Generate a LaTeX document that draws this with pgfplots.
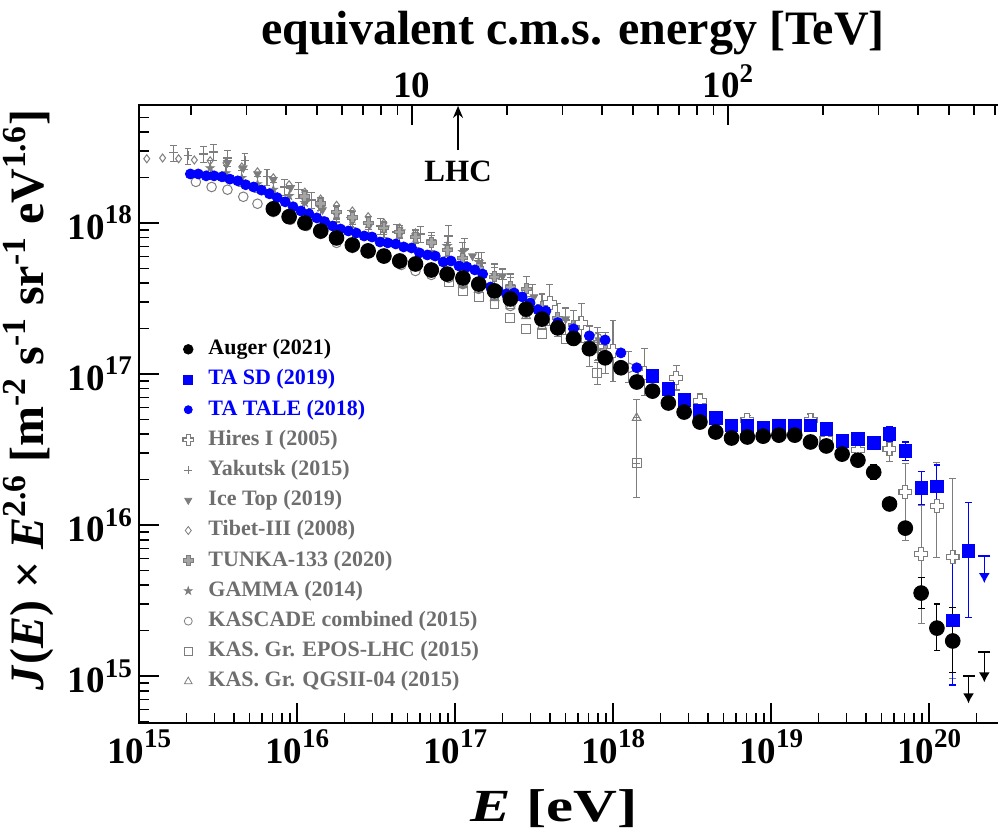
\documentclass[border=0pt]{standalone}
\usepackage{fontspec}
\setmainfont{Liberation Serif}
\usepackage{graphicx}
\usepackage{pgfplots}
\pgfplotsset{compat=1.18}
\usetikzlibrary{arrows.meta}
\definecolor{tablue}{RGB}{0,0,255}
\definecolor{gr}{RGB}{125,125,125}
\definecolor{grt}{RGB}{110,110,110}
\newcommand{\tsup}[1]{\raisebox{0.42em}{\fontsize{13.5}{14}\selectfont #1}}

\pgfdeclareplotmark{hplus}{%
 \pgfpathmoveto{\pgfqpoint{-0.38\pgfplotmarksize}{\pgfplotmarksize}}%
 \pgfpathlineto{\pgfqpoint{0.38\pgfplotmarksize}{\pgfplotmarksize}}%
 \pgfpathlineto{\pgfqpoint{0.38\pgfplotmarksize}{0.38\pgfplotmarksize}}%
 \pgfpathlineto{\pgfqpoint{\pgfplotmarksize}{0.38\pgfplotmarksize}}%
 \pgfpathlineto{\pgfqpoint{\pgfplotmarksize}{-0.38\pgfplotmarksize}}%
 \pgfpathlineto{\pgfqpoint{0.38\pgfplotmarksize}{-0.38\pgfplotmarksize}}%
 \pgfpathlineto{\pgfqpoint{0.38\pgfplotmarksize}{-\pgfplotmarksize}}%
 \pgfpathlineto{\pgfqpoint{-0.38\pgfplotmarksize}{-\pgfplotmarksize}}%
 \pgfpathlineto{\pgfqpoint{-0.38\pgfplotmarksize}{-0.38\pgfplotmarksize}}%
 \pgfpathlineto{\pgfqpoint{-\pgfplotmarksize}{-0.38\pgfplotmarksize}}%
 \pgfpathlineto{\pgfqpoint{-\pgfplotmarksize}{0.38\pgfplotmarksize}}%
 \pgfpathlineto{\pgfqpoint{-0.38\pgfplotmarksize}{0.38\pgfplotmarksize}}%
 \pgfpathclose
 \pgfusepathqfillstroke}

\pgfdeclareplotmark{fstar}{%
 \pgfpathmoveto{\pgfqpoint{0pt}{\pgfplotmarksize}}%
 \pgfpathlineto{\pgfqpoint{-0.225\pgfplotmarksize}{0.309\pgfplotmarksize}}%
 \pgfpathlineto{\pgfqpoint{-0.951\pgfplotmarksize}{0.309\pgfplotmarksize}}%
 \pgfpathlineto{\pgfqpoint{-0.363\pgfplotmarksize}{-0.118\pgfplotmarksize}}%
 \pgfpathlineto{\pgfqpoint{-0.588\pgfplotmarksize}{-0.809\pgfplotmarksize}}%
 \pgfpathlineto{\pgfqpoint{0pt}{-0.382\pgfplotmarksize}}%
 \pgfpathlineto{\pgfqpoint{0.588\pgfplotmarksize}{-0.809\pgfplotmarksize}}%
 \pgfpathlineto{\pgfqpoint{0.363\pgfplotmarksize}{-0.118\pgfplotmarksize}}%
 \pgfpathlineto{\pgfqpoint{0.951\pgfplotmarksize}{0.309\pgfplotmarksize}}%
 \pgfpathlineto{\pgfqpoint{0.225\pgfplotmarksize}{0.309\pgfplotmarksize}}%
 \pgfpathclose
 \pgfusepathqfillstroke}

\pgfplotsset{
 ebar/.style={/pgfplots/error bars/y dir=both,
   /pgfplots/error bars/y explicit relative,
   /pgfplots/error bars/error bar style={#1, line width=0.55pt},
   /pgfplots/error bars/error mark options={#1, line width=0.55pt, mark size=1.7pt, rotate=90}},
}

\begin{document}
\begin{tikzpicture}
\path[use as bounding box] (-69.5pt,-54pt) rectangle (429.5pt,361.5pt);

%================ main axis =================
\begin{axis}[
 scale only axis, width=436pt, height=309pt,
 xmode=log, ymode=log,
 xmin=1e15, xmax=3.304e20, ymin=4.9e14, ymax=6.04e18,
 xtick={1e15,1e16,1e17,1e18,1e19,1e20},
 xticklabels={10\tsup{15},10\tsup{16},10\tsup{17},10\tsup{18},10\tsup{19},10\tsup{20}},
 minor xtick={2e15,3e15,4e15,5e15,6e15,7e15,8e15,9e15,2e16,3e16,4e16,5e16,6e16,7e16,8e16,9e16,2e17,3e17,4e17,5e17,6e17,7e17,8e17,9e17,2e18,3e18,4e18,5e18,6e18,7e18,8e18,9e18,2e19,3e19,4e19,5e19,6e19,7e19,8e19,9e19,2e20,3e20},
 ytick={1e15,1e16,1e17,1e18},
 yticklabels={10\tsup{15},10\tsup{16},10\tsup{17},10\tsup{18}},
 minor ytick={5e14,6e14,7e14,8e14,9e14,2e15,3e15,4e15,5e15,6e15,7e15,8e15,9e15,2e16,3e16,4e16,5e16,6e16,7e16,8e16,9e16,2e17,3e17,4e17,5e17,6e17,7e17,8e17,9e17,2e18,3e18,4e18,5e18},
 xtick pos=left, ytick pos=left,
 tick align=inside,
 major tick length=10pt, minor tick length=5pt,
 every tick/.style={black, line width=0.8pt},
 axis line style={line width=1pt},
 tick label style={font=\fontsize{18.5}{20}\selectfont\bfseries},
 xlabel={\scalebox{1.32}[1]{\textit{E} [eV]}},
 xlabel style={font=\fontsize{23}{27}\selectfont\bfseries, at={(axis description cs:0.476,-0.16)}, anchor=base, inner sep=0pt},
 ylabel={\textit{J}(\textit{E}) × \textit{E}\textsuperscript{2.6} [m\textsuperscript{-2} s\textsuperscript{-1} sr\textsuperscript{-1} eV\textsuperscript{1.6}]},
 ylabel style={font=\fontsize{24}{28}\selectfont\bfseries, at={(axis description cs:-0.1273,0.5227)}, anchor=center},
 legend style={at={(axis description cs:0.0505,0.625)}, anchor=north west, draw=none, fill=none,
   inner sep=0pt, outer sep=0pt, font=\fontsize{11}{13}\selectfont\bfseries, row sep=2.5pt,
   nodes={inner sep=1pt, text height=8pt, text depth=2.6pt}},
 legend cell align=left,
]

% ---------- legend entries ----------
\addlegendimage{only marks, mark=*, mark size=2.4pt, black}
\addlegendentry{\hspace{6.5pt}Auger (2021)}
\addlegendimage{only marks, mark=square*, mark size=2.2pt, tablue}
\addlegendentry{\hspace{6.5pt}\textcolor{tablue}{TA SD (2019)}}
\addlegendimage{only marks, mark=*, mark size=2pt, tablue}
\addlegendentry{\hspace{6.5pt}\textcolor{tablue}{TA TALE (2018)}}
\addlegendimage{only marks, mark=hplus, mark size=2.6pt, draw=gr, fill=white, line width=0.6pt}
\addlegendentry{\hspace{6.5pt}\textcolor{grt}{Hires I (2005)}}
\addlegendimage{only marks, mark=+, mark size=2pt, gr}
\addlegendentry{\hspace{6.5pt}\textcolor{grt}{Yakutsk (2015)}}
\addlegendimage{only marks, mark=triangle*, mark size=2pt, gr, mark options={rotate=180}}
\addlegendentry{\hspace{6.5pt}\textcolor{grt}{Ice Top (2019)}}
\addlegendimage{only marks, mark=diamond, mark size=2pt, gr}
\addlegendentry{\hspace{6.5pt}\textcolor{grt}{Tibet-III (2008)}}
\addlegendimage{only marks, mark=hplus, mark size=2.6pt, draw=gr, fill=gr!70, line width=0.5pt}
\addlegendentry{\hspace{6.5pt}\textcolor{grt}{TUNKA-133 (2020)}}
\addlegendimage{only marks, mark=fstar, mark size=2pt, draw=gr, fill=gr}
\addlegendentry{\hspace{6.5pt}\textcolor{grt}{GAMMA (2014)}}
\addlegendimage{only marks, mark=o, mark size=2pt, gr}
\addlegendentry{\hspace{6.5pt}\textcolor{grt}{KASCADE combined (2015)}}
\addlegendimage{only marks, mark=square, mark size=2pt, gr}
\addlegendentry{\hspace{6.5pt}\textcolor{grt}{KAS. Gr. EPOS-LHC (2015)}}
\addlegendimage{only marks, mark=triangle, mark size=2.2pt, gr}
\addlegendentry{\hspace{6.5pt}\textcolor{grt}{KAS. Gr. QGSII-04 (2015)}}

% ---------- Tibet-III ----------
\addplot[forget plot, only marks, mark=diamond, mark size=2pt, gr, line width=0.5pt] coordinates {
(1.12e15,2.66e18) (1.41e15,2.69e18) (1.78e15,2.66e18) (2.24e15,2.61e18) (2.82e15,2.58e18)
(3.55e15,2.50e18) (4.47e15,2.35e18) (5.62e15,2.18e18) (7.08e15,1.99e18) (8.91e15,1.79e18)
(1.12e16,1.60e18) (1.41e16,1.44e18) (1.78e16,1.31e18) (2.24e16,1.20e18) (2.82e16,1.10e18)
(3.55e16,1.00e18) (4.47e16,9.27e17) (5.62e16,8.59e17)};

% ---------- Yakutsk ----------
\addplot[forget plot, only marks, mark=+, mark size=2.2pt, gr, line width=0.6pt, ebar=gr] coordinates {
(1.66e15,2.91e18) +- (0,0.12) (2.04e15,2.78e18) +- (0,0.12) (2.57e15,2.86e18) +- (0,0.12)
(2.95e15,2.95e18) +- (0,0.12) (3.63e15,2.69e18) +- (0,0.12) (4.68e15,2.58e18) +- (0,0.12)
(6.46e15,2.02e18) +- (0,0.12) (8.32e15,1.73e18) +- (0,0.12) (1.02e16,1.66e18) +- (0,0.12)
(1.23e16,1.42e18) +- (0,0.12) (1.78e16,1.16e18) +- (0,0.12) (2.19e16,1.08e18) +- (0,0.12)
(3.39e16,9.55e17) +- (0,0.12) (4.27e16,8.71e17) +- (0,0.12) (6.03e16,8.45e17) +- (0,0.12)
(9.12e16,8.20e17) +- (0,0.18) (1.15e17,6.73e17) +- (0,0.18) (1.48e17,5.43e17) +- (0,0.18)
(2.00e17,4.20e17) +- (0,0.18) (3.09e17,3.24e17) +- (0,0.2) (5.01e17,2.28e17) +- (0,0.2)
(8.13e17,1.56e17) +- (0,0.2)};

% ---------- Ice Top ----------
\addplot[forget plot, only marks, mark=triangle*, mark size=2.2pt, gr, mark options={rotate=180}] coordinates {
(3.63e15,2.50e18) (4.57e15,2.31e18) (5.62e15,2.11e18) (7.08e15,1.93e18) (9.12e15,1.71e18)
(1.12e16,1.42e18) (1.45e16,1.22e18) (1.78e16,1.13e18) (2.24e16,1.03e18) (2.88e16,9.70e17)
(3.63e16,9.27e17) (4.57e16,8.71e17) (5.62e16,8.20e17) (7.08e16,7.48e17) (9.12e16,6.62e17)
(1.29e17,6.04e17) (2.00e17,4.46e17) (3.16e17,3.24e17) (5.01e17,2.31e17) (8.13e17,1.68e17)};

% ---------- GAMMA ----------
\addplot[forget plot, only marks, mark=fstar, mark size=2.2pt, draw=gr, fill=gr, ebar=gr] coordinates {
(2.82e15,2.31e18) +- (0,0.12) (3.55e15,2.14e18) +- (0,0.12) (4.47e15,1.99e18) +- (0,0.12)
(5.62e15,1.81e18) +- (0,0.12) (7.08e15,1.66e18) +- (0,0.12) (8.91e15,1.51e18) +- (0,0.12)
(1.12e16,1.36e18) +- (0,0.12) (1.41e16,1.26e18) +- (0,0.12) (1.78e16,1.15e18) +- (0,0.12)
(2.24e16,1.06e18) +- (0,0.12) (2.82e16,9.85e17) +- (0,0.12) (3.55e16,9.12e17) +- (0,0.12)
(4.47e16,8.45e17) +- (0,0.14) (5.62e16,7.96e17) +- (0,0.14) (7.08e16,7.60e17) +- (0,0.14)
(8.91e16,7.05e17) +- (0,0.15) (1.12e17,6.43e17) +- (0,0.15) (1.41e17,5.52e17) +- (0,0.16)
(1.78e17,4.53e17) +- (0,0.18) (2.24e17,3.83e17) +- (0,0.2)};

% ---------- TUNKA-133 ----------
\addplot[forget plot, only marks, mark=hplus, mark size=2.5pt, draw=gr, fill=gr!70, line width=0.5pt, ebar=gr] coordinates {
(1.12e16,1.49e18) +- (0,0.1) (1.41e16,1.34e18) +- (0,0.1) (1.78e16,1.18e18) +- (0,0.1)
(2.24e16,1.08e18) +- (0,0.1) (2.82e16,1.00e18) +- (0,0.1) (3.55e16,9.27e17) +- (0,0.1)
(4.47e16,8.71e17) +- (0,0.1) (5.62e16,8.07e17) +- (0,0.1) (7.08e16,7.38e17) +- (0,0.12)
(8.91e16,6.62e17) +- (0,0.12) (1.12e17,5.86e17) +- (0,0.12) (1.41e17,5.03e17) +- (0,0.15)
(1.78e17,4.39e17) +- (0,0.15) (2.24e17,3.77e17) +- (0,0.15) (2.82e17,3.66e17) +- (0,0.2)
(3.55e17,2.82e17) +- (0,0.2) (4.47e17,2.35e17) +- (0,0.25) (5.62e17,2.11e17) +- (0,0.25)
(7.08e17,1.60e17) +- (0,0.3) (8.91e17,1.44e17) +- (0,0.3)};

% ---------- KASCADE combined ----------
\addplot[forget plot, only marks, mark=o, mark size=2.4pt, gr, line width=0.5pt] coordinates {
(2.29e15,1.87e18) (2.88e15,1.73e18) (3.63e15,1.66e18) (4.57e15,1.49e18) (5.62e15,1.34e18)
(7.08e15,1.18e18) (9.12e15,1.05e18) (1.15e16,9.55e17) (1.41e16,8.45e17) (1.78e16,7.38e17)
(2.24e16,6.83e17) (2.88e16,6.33e17) (3.55e16,5.86e17) (4.57e16,5.27e17) (5.62e16,4.81e17)
(7.08e16,4.53e17) (9.12e16,4.33e17) (1.12e17,3.94e17) (1.41e17,3.66e17) (1.78e17,3.29e17)
(2.24e17,2.82e17) (2.82e17,2.54e17) (3.55e17,2.35e17) (4.47e17,2.08e17) (5.62e17,1.84e17)};
\addplot[forget plot, only marks, mark=o, mark size=2.4pt, gr, line width=0.5pt, ebar=gr] coordinates {
(7.94e17,1.73e17) +- (0,0.17) (1.26e18,1.10e17) += (0,0.277) -= (0,0.2)};

% ---------- KAS. Gr. EPOS-LHC ----------
\addplot[forget plot, only marks, mark=square, mark size=2.2pt, gr, line width=0.5pt] coordinates {
(9.12e16,4.06e17) (1.12e17,3.55e17) (1.41e17,3.24e17) (1.78e17,2.91e17) (2.24e17,2.35e17)
(2.82e17,1.99e17) (3.55e17,1.84e17) (5.01e17,1.71e17)};
\addplot[forget plot, only marks, mark=square, mark size=2.2pt, gr, line width=0.5pt, ebar=gr] coordinates {
(7.94e17,1.02e17) +- (0,0.17) (1.41e18,2.58e16) += (0,0.995) -= (0,0.411)};

% ---------- KAS. Gr. QGSII-04 ----------
\addplot[forget plot, only marks, mark=triangle, mark size=2.5pt, gr, line width=0.5pt] coordinates {
(9.12e16,4.46e17) (1.12e17,3.88e17) (1.41e17,3.60e17) (1.78e17,3.18e17) (2.24e17,2.82e17)
(2.82e17,2.42e17) (3.55e17,2.08e17)};
\addplot[forget plot, only marks, mark=triangle, mark size=2.5pt, gr, line width=0.5pt, ebar=gr] coordinates {
(7.94e17,1.44e17) +- (0,0.15) (1.41e18,5.12e16) += (0,0.318) -= (0,0.499)};

% ---------- Hires I ----------
\addplot[forget plot, only marks, mark=hplus, mark size=3.2pt, draw=gr, fill=white, line width=0.6pt, ebar=gr] coordinates {
(3.98e17,2.95e17) += (0,0.318) -= (0,0.292)
(6.31e17,2.18e17) += (0,0.349) -= (0,0.259)
(1.00e18,1.42e17) += (0,0.585) -= (0,0.369)
(1.58e18,1.02e17) += (0,0.445) -= (0,0.292)
(2.51e18,9.42e16) += (0,0.202) -= (0,0.168)
(3.55e18,6.62e16) += (0,0.122) -= (0,0.109)
(7.08e18,4.96e16) += (0,0.072) -= (0,0.067)
(1.78e19,4.96e16) += (0,0.096) -= (0,0.088)
(2.24e19,3.72e16) += (0,0.072) -= (0,0.067)
(3.55e19,3.14e16) += (0,0.122) -= (0,0.109)
(5.62e19,3.19e16) += (0,0.202) -= (0,0.168)
(7.08e19,1.66e16) += (0,0.549) -= (0,0.521)
(8.91e19,6.43e15) += (0,1.089) -= (0,0.653)
(1.12e20,1.34e16) += (0,0.950) -= (0,0.543)
(1.41e20,6.14e15) += (0,2.311) -= (0,0.842)};

% ---------- TA TALE ----------
\addplot[forget plot, only marks, mark=*, mark size=2.5pt, tablue] coordinates {
(2.113e15,2.11e18) (2.371e15,2.11e18) (2.661e15,2.05e18) (2.985e15,2.05e18) (3.350e15,2.02e18)
(3.758e15,1.95e18) (4.217e15,1.90e18) (4.732e15,1.79e18) (5.309e15,1.73e18) (5.957e15,1.65e18)
(6.683e15,1.56e18) (7.499e15,1.47e18) (8.414e15,1.38e18) (9.441e15,1.28e18) (1.059e16,1.20e18)
(1.189e16,1.15e18) (1.334e16,1.08e18) (1.496e16,1.02e18) (1.679e16,9.55e17) (1.884e16,9.12e17)
(2.113e16,8.85e17) (2.371e16,8.58e17) (2.661e16,8.20e17) (2.985e16,8.07e17) (3.350e16,7.48e17)
(3.758e16,7.38e17) (4.217e16,7.26e17) (4.732e16,6.94e17) (5.309e16,6.83e17) (5.957e16,6.33e17)
(6.683e16,6.14e17) (7.499e16,6.04e17) (8.414e16,5.52e17) (9.441e16,5.60e17) (1.059e17,5.19e17)
(1.189e17,5.11e17) (1.334e17,4.89e17) (1.496e17,4.59e17) (1.679e17,3.77e17) (1.884e17,3.55e17)
(2.113e17,3.39e17) (2.371e17,3.44e17) (2.661e17,3.24e17) (2.985e17,2.95e17) (3.350e17,2.66e17)
(3.758e17,2.61e17) (4.467e17,2.19e17) (5.623e17,1.99e17) (7.079e17,1.79e17) (8.913e17,1.68e17)
(1.122e18,1.38e17) (1.413e18,1.10e17)};

% ---------- TA SD ----------
\addplot[forget plot, only marks, mark=square*, mark size=3.1pt, tablue] coordinates {
(1.778e18,9.70e16) (2.239e18,7.96e16) (2.818e18,6.73e16) (3.548e18,5.69e16) (4.467e18,5.12e16)
(5.623e18,4.59e16) (7.079e18,4.53e16) (8.913e18,4.39e16) (1.122e19,4.53e16) (1.413e19,4.53e16)
(1.778e19,4.59e16) (2.239e19,4.32e16) (2.818e19,3.60e16)};
\addplot[forget plot, only marks, mark=square*, mark size=3.1pt, tablue, ebar=tablue] coordinates {
(3.548e19,3.71e16) +- (0,0.072)
(4.467e19,3.49e16) +- (0,0.096)
(5.623e19,4.01e16) += (0,0.122) -= (0,0.109)
(7.079e19,3.09e16) += (0,0.148) -= (0,0.129)
(8.913e19,1.76e16) += (0,0.288) -= (0,0.224)
(1.122e20,1.81e16) += (0,0.380) -= (0,0.276)
(1.413e20,2.35e15) += (0,1.630) -= (0,0.628)
(1.778e20,6.73e15) += (0,1.089) -= (0,0.637)};
% TA SD upper limit
\addplot[forget plot, tablue, line width=0.7pt, -{Latex[length=5pt,width=5.5pt]}] coordinates {(2.239e20,6.24e15) (2.239e20,4.13e15)};
\addplot[forget plot, only marks, mark=-, mark size=3pt, tablue, line width=0.7pt] coordinates {(2.239e20,6.24e15)};

% ---------- Auger ----------
\addplot[forget plot, only marks, mark=*, mark size=3.7pt, black] coordinates {
(7.079e15,1.24e18) (8.913e15,1.10e18) (1.122e16,1.00e18) (1.413e16,8.85e17) (1.778e16,7.96e17)
(2.239e16,7.15e17) (2.818e16,6.53e17) (3.548e16,6.04e17) (4.467e16,5.60e17) (5.623e16,5.35e17)
(7.079e16,4.88e17) (8.913e16,4.59e17) (1.122e17,4.32e17) (1.413e17,3.94e17) (1.778e17,3.55e17)
(2.239e17,3.14e17) (2.818e17,2.69e17) (3.548e17,2.31e17) (4.467e17,2.02e17) (5.623e17,1.72e17)
(7.079e17,1.47e17) (8.913e17,1.28e17) (1.122e18,1.10e17) (1.413e18,8.85e16) (1.778e18,7.71e16)
(2.239e18,6.43e16) (2.818e18,5.60e16) (3.548e18,4.81e16) (4.467e18,4.13e16) (5.623e18,3.77e16)
(7.079e18,3.83e16) (8.913e18,3.88e16) (1.122e19,3.94e16) (1.413e19,3.94e16) (1.778e19,3.55e16)
(2.239e19,3.34e16) (2.818e19,2.95e16) (3.548e19,2.69e16) (5.623e19,1.38e16)};
\addplot[forget plot, only marks, mark=*, mark size=3.7pt, black, ebar=black] coordinates {
(4.467e19,2.24e16) += (0,0.122) -= (0,0.109)
(7.079e19,9.55e15) += (0,0.096) -= (0,0.088)
(8.913e19,3.55e15) += (0,0.259) -= (0,0.206)
(1.122e20,2.08e15) += (0,0.445) -= (0,0.292)
(1.413e20,1.71e15) += (0,0.660) -= (0,0.384)};
% Auger upper limits
\addplot[forget plot, black, line width=0.8pt, -{Latex[length=5pt,width=5.5pt]}] coordinates {(1.778e20,1.0e15) (1.778e20,6.6e14)};
\addplot[forget plot, black, line width=0.8pt, -{Latex[length=5pt,width=5.5pt]}] coordinates {(2.239e20,1.44e15) (2.239e20,9.1e14)};
\addplot[forget plot, only marks, mark=-, mark size=3pt, black, line width=0.8pt] coordinates {(1.778e20,1.0e15) (2.239e20,1.44e15)};

% ---------- LHC ----------
\draw[line width=0.7pt, -{Stealth[length=6pt,width=5pt]}] (axis cs:1.045e17,3.05e18) -- (axis cs:1.045e17,5.95e18);
\node[font=\fontsize{15.5}{18}\selectfont\bfseries] at (axis cs:1.045e17,2.2e18) {LHC};
\end{axis}

%================ top axis =================
\begin{axis}[
 scale only axis, width=436pt, height=309pt,
 xmode=log, xmin=1.3697, xmax=787.3, ymin=0, ymax=1,
 axis x line*=top, hide y axis,
 xtick={10,100},
 xticklabels={10,10\tsup{2}},
 minor xtick={2,3,4,5,6,7,8,9,20,30,40,50,60,70,80,90,200,300,400,500,600,700},
 tick align=inside,
 major tick length=10pt, minor tick length=5pt,
 every tick/.style={black, line width=0.8pt},
 axis line style={line width=1pt},
 tick label style={font=\fontsize{18.5}{20}\selectfont\bfseries},
 xlabel={equivalent c.m.s. energy [TeV]},
 xlabel style={font=\fontsize{24}{28}\selectfont\bfseries, at={(axis description cs:0.4977,1.1165)}, anchor=center},
]
\addplot[draw=none, forget plot] coordinates {(2,0.5) (500,0.5)};
\end{axis}
\end{tikzpicture}
\end{document}
